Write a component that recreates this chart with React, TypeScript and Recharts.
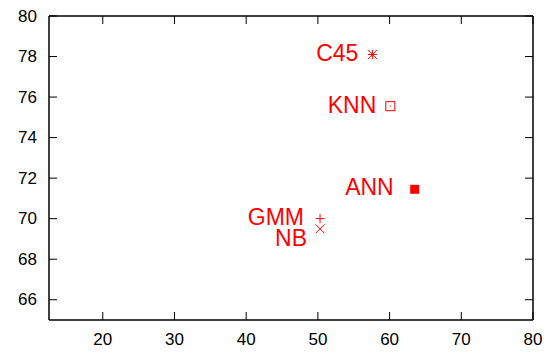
import React from 'react';
import { ScatterChart, Scatter, XAxis, YAxis } from 'recharts';

const models = ['C45', 'KNN', 'ANN', 'GMM', 'NB'];
const xValues = [57.6, 60.1, 63.5, 50.3, 50.3];
const yValues = [78.1, 75.55, 71.45, 70.0, 69.5];
const xTicks = [20, 30, 40, 50, 60, 70, 80];
const yTicks = [66, 68, 70, 72, 74, 76, 78, 80];

// marker style and label offset (px) per model
const markerOf: Record<string, string> = { C45: 'star', KNN: 'boxdot', ANN: 'box', GMM: 'plus', NB: 'cross' };
const labelShift: Record<string, [number, number]> = {
  C45: [-14, -2], KNN: [-14, -1], ANN: [-21, -2], GMM: [-16, -2], NB: [-13, 9],
};

const FONT = '"Liberation Sans", Arial, Helvetica, sans-serif';
const RED = '#ff0000';
const W = 555;
const H = 352;
const M = { top: 15, right: 21, bottom: 0, left: 0 };
const LEFT_W = 49;
const BOTTOM_H = 32;
// plot box size, used to mirror the ticks onto the top and right sides
const PLOT_W = W - M.left - M.right - LEFT_W - 1;
const PLOT_H = H - M.top - M.bottom - BOTTOM_H - 1;

const data = models.map((name, i) => ({ name, x: xValues[i], y: yValues[i] }));

const Marker = (props: any) => {
  const { cx, cy, payload } = props;
  const r = 4.5;
  const kind = markerOf[payload.name];
  const [dx, dy] = labelShift[payload.name];
  let mark: React.ReactNode = null;
  if (kind === 'star') {
    mark = (
      <g stroke={RED} strokeWidth={1}>
        <line x1={cx - r} y1={cy} x2={cx + r} y2={cy} />
        <line x1={cx} y1={cy - r} x2={cx} y2={cy + r} />
        <line x1={cx - r} y1={cy - r} x2={cx + r} y2={cy + r} />
        <line x1={cx - r} y1={cy + r} x2={cx + r} y2={cy - r} />
      </g>
    );
  } else if (kind === 'boxdot') {
    mark = (
      <g>
        <rect x={cx - r} y={cy - r} width={2 * r} height={2 * r} fill="none" stroke={RED} strokeWidth={1} />
        <rect x={cx - 0.5} y={cy - 0.5} width={1} height={1} fill={RED} />
      </g>
    );
  } else if (kind === 'box') {
    mark = <rect x={cx - r} y={cy - r} width={2 * r} height={2 * r} fill={RED} />;
  } else if (kind === 'plus') {
    mark = (
      <g stroke={RED} strokeWidth={1}>
        <line x1={cx - r} y1={cy} x2={cx + r} y2={cy} />
        <line x1={cx} y1={cy - r} x2={cx} y2={cy + r} />
      </g>
    );
  } else {
    mark = (
      <g stroke={RED} strokeWidth={1}>
        <line x1={cx - r} y1={cy - r} x2={cx + r} y2={cy + r} />
        <line x1={cx - r} y1={cy + r} x2={cx + r} y2={cy - r} />
      </g>
    );
  }
  return (
    <g>
      {mark}
      <text x={cx + dx} y={cy + dy} textAnchor="end" dominantBaseline="central" fontSize={23} fill={RED} fontFamily={FONT}>
        {payload.name}
      </text>
    </g>
  );
};

const BottomTick = (props: any) => {
  const { x, y, payload } = props;
  return (
    <g>
      <line x1={x} y1={y} x2={x} y2={y - 8} stroke="#000" />
      <line x1={x} y1={y - PLOT_H} x2={x} y2={y - PLOT_H + 8} stroke="#000" />
      <text x={x} y={y + 25} textAnchor="middle" fontSize={17} fill="#000" fontFamily={FONT}>{payload.value}</text>
    </g>
  );
};

const LeftTick = (props: any) => {
  const { x, y, payload } = props;
  return (
    <g>
      <line x1={x} y1={y} x2={x + 8} y2={y} stroke="#000" />
      <line x1={x + PLOT_W} y1={y} x2={x + PLOT_W - 8} y2={y} stroke="#000" />
      <text x={x - 12} y={y} textAnchor="end" dominantBaseline="central" fontSize={17} fill="#000" fontFamily={FONT}>{payload.value}</text>
    </g>
  );
};

const App: React.FC = () => {
  return (
    <div style={{ position: 'absolute', left: 0, top: 0, width: W, height: H, background: '#fff' }}>
      <ScatterChart width={W} height={H} margin={M}>
        <XAxis
          xAxisId="b" type="number" dataKey="x" domain={[12.5, 80]} ticks={xTicks} allowDataOverflow
          orientation="bottom" height={BOTTOM_H} tickSize={0} tickMargin={0} tickLine={false}
          axisLine={{ stroke: '#000', strokeWidth: 1.5 }} tick={<BottomTick />} interval={0}
        />
        <XAxis
          xAxisId="t" type="number" dataKey="x" domain={[12.5, 80]} ticks={xTicks} allowDataOverflow
          orientation="top" height={1} tickLine={false} tick={false}
          axisLine={{ stroke: '#000', strokeWidth: 1.5 }}
        />
        <YAxis
          yAxisId="l" type="number" dataKey="y" domain={[65, 80]} ticks={yTicks} allowDataOverflow
          orientation="left" width={LEFT_W} tickSize={0} tickMargin={0} tickLine={false}
          axisLine={{ stroke: '#000', strokeWidth: 1.5 }} tick={<LeftTick />} interval={0}
        />
        <YAxis
          yAxisId="r" type="number" dataKey="y" domain={[65, 80]} ticks={yTicks} allowDataOverflow
          orientation="right" width={1} tickLine={false} tick={false}
          axisLine={{ stroke: '#000', strokeWidth: 1.5 }}
        />
        <Scatter data={data} xAxisId="b" yAxisId="l" shape={<Marker />} isAnimationActive={false} />
        <Scatter data={[]} xAxisId="t" yAxisId="r" isAnimationActive={false} />
      </ScatterChart>
    </div>
  );
};

export default App;
